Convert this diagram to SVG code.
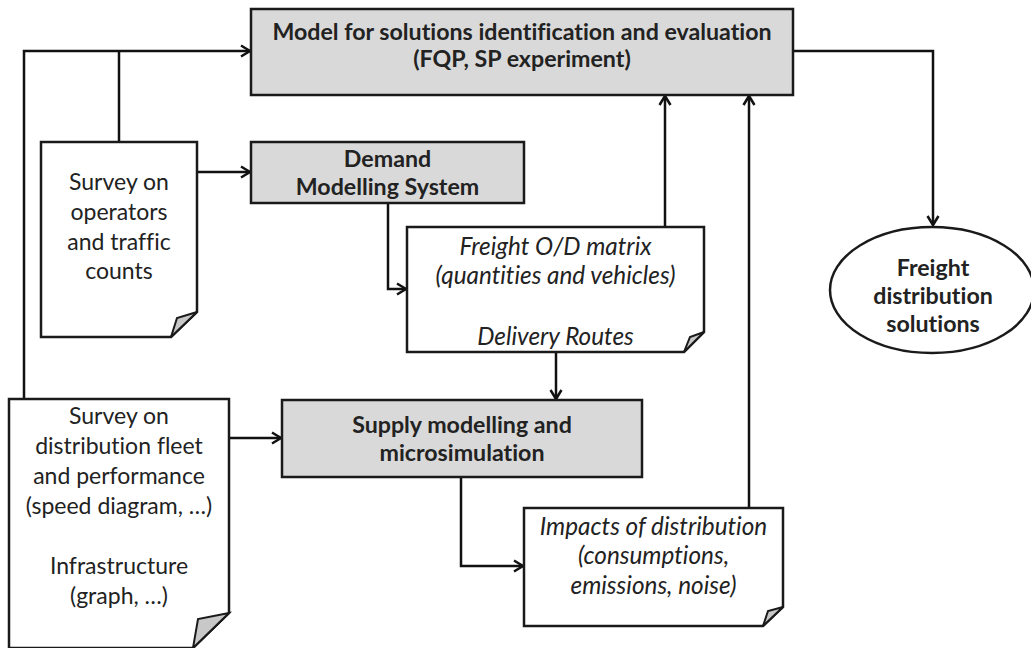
<svg xmlns="http://www.w3.org/2000/svg" width="1031" height="648" viewBox="0 0 1031 648">
<style>
.box{fill:#d9d9d9;stroke:#1a1a1a;stroke-width:2.5}
.doc{fill:#ffffff;stroke:#1a1a1a;stroke-width:2.5;stroke-linejoin:miter}
.fold{fill:#c8c8c8;stroke:#1a1a1a;stroke-width:2}
.ell{fill:#ffffff;stroke:#1a1a1a;stroke-width:2.5}
.edge{fill:none;stroke:#111;stroke-width:2.5}
.t{font-family:Lato,"Liberation Sans",sans-serif;font-size:23px;fill:#222;text-anchor:middle;font-variant-ligatures:none;font-feature-settings:"liga" 0,"dlig" 0}
.b{font-weight:bold;font-size:23.2px}
.i{font-style:italic;font-size:24.3px}
</style>
<defs>
<marker id="ah" markerUnits="userSpaceOnUse" markerWidth="14" markerHeight="14" viewBox="-12 -7 14 14" refX="0" refY="0" orient="auto" overflow="visible">
<path d="M-9,-5.5 L0,0 L-9,5.5" fill="none" stroke="#111" stroke-width="2.5"/>
</marker>
</defs>
<g id="connectors">
<path class="edge" d="M24,399 V51 H250" marker-end="url(#ah)"/>
<path class="edge" d="M119,142 V51"/>
<path class="edge" d="M197,172 H250" marker-end="url(#ah)"/>
<path class="edge" d="M388,203 V289 H406" marker-end="url(#ah)"/>
<path class="edge" d="M665,227 V96" marker-end="url(#ah)"/>
<path class="edge" d="M749,508 V96" marker-end="url(#ah)"/>
<path class="edge" d="M793,51 H933 V225" marker-end="url(#ah)"/>
<path class="edge" d="M556,352 V399" marker-end="url(#ah)"/>
<path class="edge" d="M229,438 H281" marker-end="url(#ah)"/>
<path class="edge" d="M461,477 V566 H523" marker-end="url(#ah)"/>
</g>
<g id="model">
<rect class="box" x="251" y="9" width="542" height="86"/>
<text class="t b" x="522" y="40">Model for solutions identification and evaluation</text>
<text class="t b" x="522" y="67">(FQP, SP experiment)</text>
</g>
<g id="survey-operators">
<path class="doc" d="M41,142 H197 V312 L171,337 H41 Z"/>
<path class="fold" d="M197,312 L177,318 L171,337 Z"/>
<text class="t" x="119" y="190">Survey on</text>
<text class="t" x="119" y="220">operators</text>
<text class="t" x="119" y="250">and traffic</text>
<text class="t" x="119" y="279">counts</text>
</g>
<g id="demand">
<rect class="box" x="251" y="142" width="273" height="61"/>
<text class="t b" x="387.5" y="167">Demand</text>
<text class="t b" x="387.5" y="195">Modelling System</text>
</g>
<g id="od-matrix">
<path class="doc" d="M407,227 H704 V332 L684,352 H407 Z"/>
<path class="fold" d="M704,332 L690,337 L684,352 Z"/>
<text class="t i" x="555.5" y="255">Freight O/D matrix</text>
<text class="t i" x="555.5" y="284">(quantities and vehicles)</text>
<text class="t i" x="555.5" y="345">Delivery Routes</text>
</g>
<g id="solutions">
<ellipse class="ell" cx="932" cy="290" rx="102" ry="63"/>
<text class="t b" x="933" y="276">Freight</text>
<text class="t b" x="933" y="304">distribution</text>
<text class="t b" x="933" y="332">solutions</text>
</g>
<g id="survey-fleet">
<path class="doc" d="M9,399 H229 V613 L193,648 H9 Z"/>
<path class="fold" d="M229,613 L198,619 L193,648 Z"/>
<text class="t" x="119" y="424">Survey on</text>
<text class="t" x="119" y="454">distribution fleet</text>
<text class="t" x="119" y="484">and performance</text>
<text class="t" x="119" y="514">(speed diagram, …)</text>
<text class="t" x="119" y="574">Infrastructure</text>
<text class="t" x="119" y="604">(graph, …)</text>
</g>
<g id="supply">
<rect class="box" x="282" y="400" width="360" height="77"/>
<text class="t b" x="462" y="433">Supply modelling and</text>
<text class="t b" x="462" y="461">microsimulation</text>
</g>
<g id="impacts">
<path class="doc" d="M524,508 H783 V607 L763,626 H524 Z"/>
<path class="fold" d="M783,607 L768,611 L763,626 Z"/>
<text class="t i" x="653.5" y="535">Impacts of distribution</text>
<text class="t i" x="653.5" y="564">(consumptions,</text>
<text class="t i" x="653.5" y="594">emissions, noise)</text>
</g>
</svg>
